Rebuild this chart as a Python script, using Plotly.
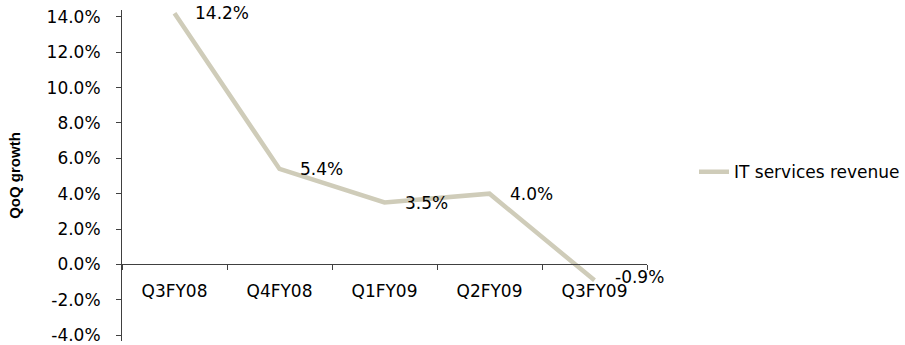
import plotly.graph_objects as go

categories = ["Q3FY08", "Q4FY08", "Q1FY09", "Q2FY09", "Q3FY09"]
growth = [14.2, 5.4, 3.5, 4.0, -0.9]
series_name = "IT services revenue"
y_ticks = [-4, -2, 0, 2, 4, 6, 8, 10, 12, 14]

FONT = "DejaVu Sans"
LINE_COLOR = "#CFCCB9"
AXIS_COLOR = "#404040"

Y_MIN, Y_MAX = -4.335, 14.39

fig = go.Figure()
fig.add_trace(go.Scatter(
    x=categories, y=growth, mode="lines", name=series_name,
    line=dict(color=LINE_COLOR, width=4.5),
))

for c, v in zip(categories, growth):
    fig.add_annotation(
        x=c, y=v, text=f"{v:.1f}%", showarrow=False,
        xanchor="left", yanchor="middle", xshift=18,
        yshift=3 if v < 0 else 0,
        font=dict(family=FONT, size=17, color="black"),
    )

fig.update_layout(
    width=905, height=345,
    margin=dict(l=122, r=252, t=10, b=0),
    paper_bgcolor="white", plot_bgcolor="white",
    font=dict(family=FONT, size=17, color="black"),
    showlegend=True,
    legend=dict(x=1.09, y=0.51, xanchor="left", yanchor="middle",
                font=dict(family=FONT, size=17, color="black"),
                bgcolor="rgba(0,0,0,0)"),
    xaxis=dict(
        type="category", range=[-0.5, 4.5],
        anchor="free", position=(0 - Y_MIN) / (Y_MAX - Y_MIN),
        showline=True, linecolor=AXIS_COLOR, linewidth=1,
        ticks="outside", ticklen=5, tickcolor=AXIS_COLOR, tickson="boundaries",
        showgrid=False, zeroline=False,
        ticklabelstandoff=11,
        tickfont=dict(family=FONT, size=17, color="black"),
    ),
    yaxis=dict(
        range=[Y_MIN, Y_MAX], tickvals=y_ticks,
        ticktext=[f"{t:.1f}%" for t in y_ticks],
        showline=True, linecolor=AXIS_COLOR, linewidth=1,
        ticks="outside", ticklen=5, tickcolor=AXIS_COLOR,
        showgrid=False, zeroline=False,
        ticklabelstandoff=12, ticklabeloverflow="allow",
        tickfont=dict(family=FONT, size=17, color="black"),
        title=dict(text="QoQ growth", standoff=22,
                   font=dict(family="Liberation Sans", size=15, color="black", weight="bold")),
    ),
)

fig.write_html("out.html")
